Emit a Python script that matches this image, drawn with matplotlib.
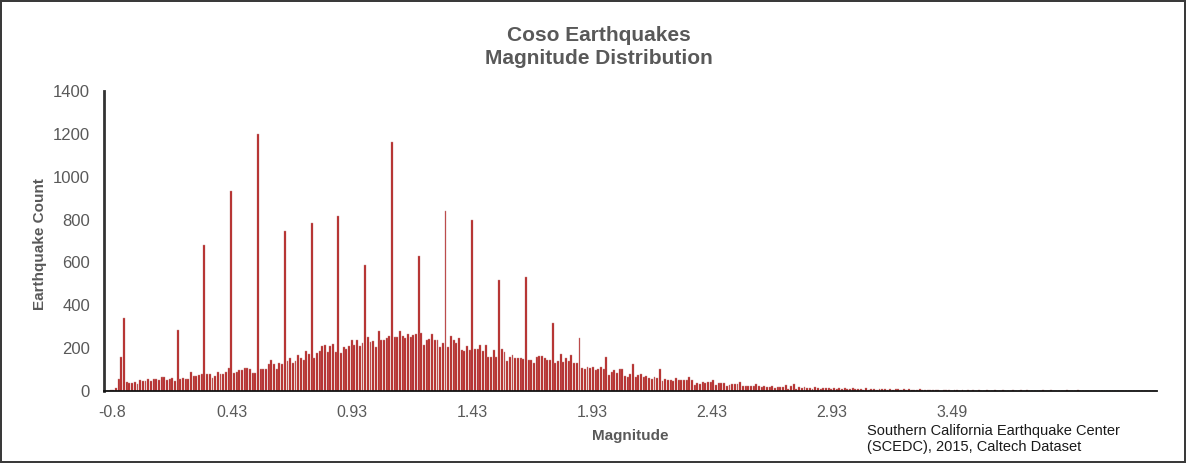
import matplotlib
matplotlib.use("Agg")
import matplotlib.pyplot as plt
import numpy as np

plt.rcParams['font.family'] = ['Liberation Sans', 'DejaVu Sans']

# Earthquake counts per magnitude category (left to right)
counts = [
    0, 0, 3, 3, 14, 54, 160, 340, 42, 36,
    39, 42, 34, 51, 46, 46, 54, 45, 57, 57,
    51, 65, 65, 51, 56, 59, 45, 285, 57, 60,
    57, 57, 88, 68, 68, 74, 79, 683, 78, 78,
    62, 68, 88, 81, 81, 88, 109, 935, 84, 88,
    96, 96, 109, 107, 104, 84, 84, 1200, 101, 104,
    101, 124, 147, 126, 104, 133, 126, 745, 138, 152,
    130, 138, 166, 152, 144, 186, 175, 785, 153, 177,
    186, 208, 215, 183, 209, 219, 180, 815, 177, 205,
    198, 209, 239, 217, 236, 209, 226, 590, 250, 229,
    233, 205, 279, 240, 236, 248, 259, 1160, 253, 253,
    282, 256, 248, 267, 251, 262, 268, 630, 273, 215,
    240, 243, 264, 240, 240, 206, 223, 840, 206, 257,
    236, 222, 246, 192, 186, 209, 192, 800, 197, 198,
    217, 186, 217, 158, 158, 192, 158, 520, 195, 180,
    140, 161, 166, 155, 155, 155, 149, 530, 143, 143,
    129, 158, 163, 163, 152, 143, 143, 316, 129, 140,
    172, 135, 152, 138, 166, 130, 129, 246, 107, 104,
    112, 109, 110, 98, 104, 112, 101, 160, 76, 91,
    98, 84, 105, 101, 68, 64, 78, 125, 67, 73,
    79, 67, 70, 62, 56, 64, 62, 102, 45, 56,
    51, 50, 48, 62, 53, 53, 50, 51, 64, 53,
    28, 39, 34, 42, 39, 43, 42, 50, 28, 36,
    36, 36, 25, 29, 33, 33, 33, 40, 25, 25,
    25, 25, 25, 33, 25, 19, 25, 20, 20, 25,
    14, 19, 19, 19, 28, 8, 23, 31, 11, 17,
    14, 20, 12, 16, 11, 18, 14, 10, 15, 12,
    16, 11, 13, 9, 14, 10, 12, 8, 11, 13,
    9, 9, 11, 7, 12, 6, 10, 9, 5, 11,
    8, 9, 6, 10, 5, 8, 9, 4, 8, 6,
    9, 5, 7, 4, 8, 5, 6, 3, 5, 7,
    4, 5, 2, 4, 6, 3, 0, 5, 3, 0,
    6, 2, 4, 0, 5, 0, 3, 2, 0, 5,
    0, 2, 4, 0, 0, 4, 0, 2, 0, 4,
    0, 0, 3, 0, 4, 0, 0, 2, 0, 0,
    3, 0, 0, 4, 0, 0, 2, 0, 0, 3,
    0, 0, 0, 3, 0, 0, 0, 0, 0, 0,
    0, 0, 0, 0, 0, 0, 0, 0, 0, 0,
    0, 0, 0, 0, 0, 0, 0, 0, 0, 0,
    0, 0, 0,
]

tick_labels = ["-0.8", "0.43", "0.93", "1.43", "1.93", "2.43", "2.93", "3.49"]
y_ticks = [0, 200, 400, 600, 800, 1000, 1200, 1400]

title = "Coso Earthquakes\nMagnitude Distribution"
x_label = "Magnitude"
y_label = "Earthquake Count"
source = "Southern California Earthquake Center\n(SCEDC), 2015, Caltech Dataset"

W, H = 1186, 463
fig = plt.figure(figsize=(W / 100, H / 100), dpi=100)
fig.patch.set_facecolor('white')
fig.patch.set_edgecolor('#3a3a3a')
fig.patch.set_linewidth(1.5)

ax = fig.add_axes([104 / W, (H - 391) / H, (1157 - 104) / W, (391 - 91) / H])

n = len(counts)
x = np.arange(n)
ax.bar(x, counts, width=0.72, color='#B3201F', edgecolor='#C98C8C', linewidth=0.3)

ax.set_ylim(0, 1400)
ax.set_yticks(y_ticks)
ax.set_yticklabels([str(v) for v in y_ticks])
ax.set_xlim(-0.5, n - 0.4)

tick_start, tick_step = 2.6, 44.78
ax.set_xticks([tick_start + tick_step * i for i in range(len(tick_labels))])
ax.set_xticklabels(tick_labels)

gray = '#595959'
ax.tick_params(axis='x', length=0, labelsize=11.5, colors=gray, pad=10)
ax.tick_params(axis='y', length=0, labelsize=12, colors=gray, pad=10)

for s in ['top', 'right']:
    ax.spines[s].set_visible(False)
ax.spines['left'].set_color('#333333')
ax.spines['left'].set_linewidth(2)
ax.spines['bottom'].set_color('#111111')
ax.spines['bottom'].set_linewidth(1.3)

fig.text(599 / W, 1 - 47 / H, title, ha='center', va='center', fontsize=15,
         fontweight='bold', color=gray, linespacing=1.3)
fig.text(40 / W, 1 - 244 / H, y_label, ha='center', va='center', rotation=90,
         fontsize=11, fontweight='bold', color=gray)
fig.text(630 / W, 1 - 436 / H, x_label, ha='center', va='center', fontsize=11,
         fontweight='bold', color=gray)
fig.text(867 / W, 1 - 439 / H, source, ha='left', va='center', fontsize=10.5,
         color='#1a1a1a', linespacing=1.2)

fig.savefig('out.png', dpi=100, facecolor=fig.get_facecolor(), edgecolor=fig.patch.get_edgecolor())
